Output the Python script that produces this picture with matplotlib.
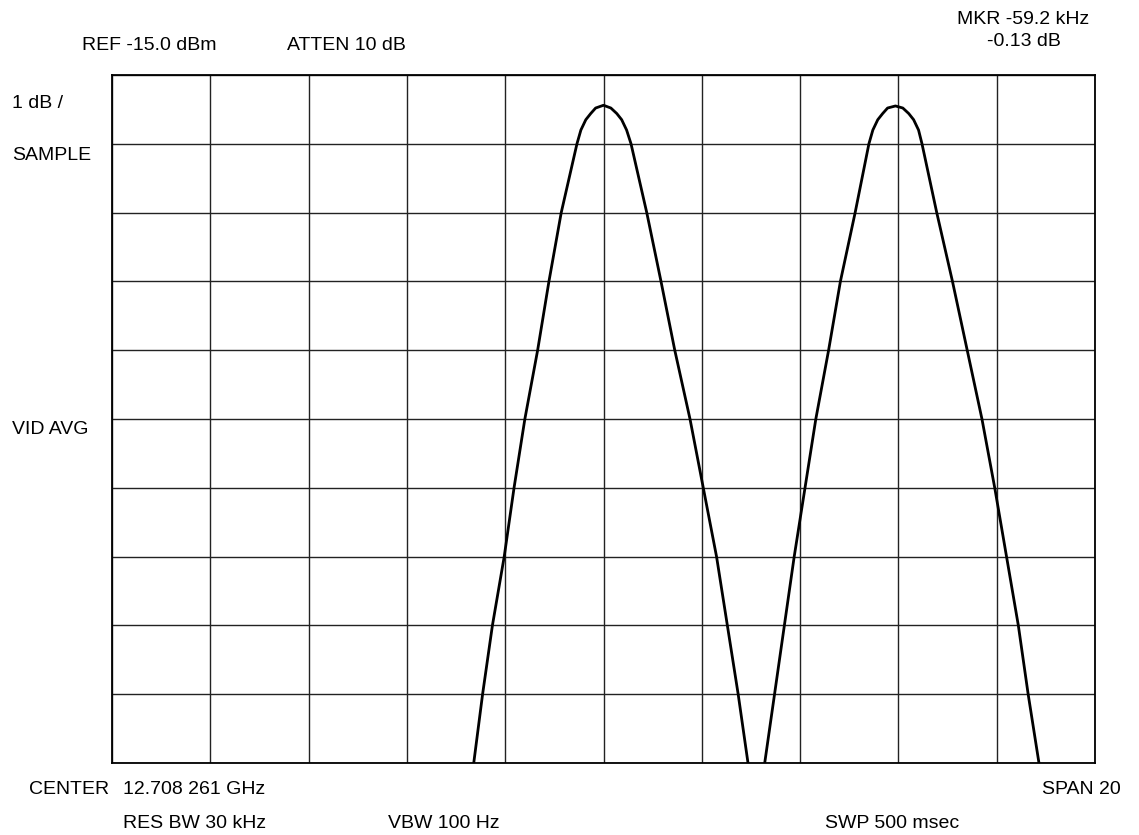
import numpy as np
import matplotlib
matplotlib.use('Agg')
import matplotlib.pyplot as plt

plt.rcParams['font.family'] = ['Liberation Sans', 'DejaVu Sans']

# --- screen settings (spectrum analyzer) ---
ref_level = -15.0      # dBm, top graticule line
db_per_div = 1.0
span_khz = 20.0        # center +/- 10 kHz
n_div = 10

# --- trace: offset from center (kHz) and level (dBm) ---
lobe1_khz = [-2.64, -2.46, -2.26, -2.02, -1.82, -1.60, -1.34, -1.11, -0.86, -0.54,
             -0.46, -0.36, -0.26, -0.16, 0.00, 0.15, 0.27, 0.37, 0.47, 0.56,
             0.88, 1.17, 1.45, 1.76, 2.03, 2.30, 2.52, 2.74, 2.94]
lobe1_dbm = [-25.0, -24.0, -23.0, -22.0, -21.0, -20.0, -19.0, -18.0, -17.0, -16.0,
             -15.80, -15.65, -15.56, -15.48, -15.44, -15.48, -15.56, -15.65, -15.80, -16.0,
             -17.0, -18.0, -19.0, -20.0, -21.0, -22.0, -23.0, -24.0, -25.0]

lobe2_khz = [3.28, 3.48, 3.68, 3.88, 4.10, 4.32, 4.58, 4.82, 5.12, 5.40,
             5.48, 5.58, 5.68, 5.78, 5.94, 6.09, 6.21, 6.31, 6.41, 6.48,
             6.78, 7.10, 7.40, 7.70, 7.96, 8.20, 8.44, 8.64, 8.86]
lobe2_dbm = [-25.0, -24.0, -23.0, -22.0, -21.0, -20.0, -19.0, -18.0, -17.0, -16.0,
             -15.80, -15.65, -15.56, -15.48, -15.45, -15.48, -15.56, -15.65, -15.80, -16.0,
             -17.0, -18.0, -19.0, -20.0, -21.0, -22.0, -23.0, -24.0, -25.0]

W, H = 1139, 835
fig = plt.figure(figsize=(W / 100, H / 100), dpi=100)
ax = fig.add_axes([112 / W, 1 - 763 / H, (1095 - 112) / W, (763 - 75) / H])

ax.set_xlim(-span_khz / 2, span_khz / 2)
ax.set_ylim(ref_level - n_div * db_per_div, ref_level)
ax.set_xticks(np.linspace(-span_khz / 2, span_khz / 2, n_div + 1))
ax.set_yticks(np.linspace(ref_level - n_div * db_per_div, ref_level, n_div + 1))
ax.tick_params(length=0, labelbottom=False, labelleft=False)
ax.grid(True, color='#222222', linewidth=1.0)
for s in ax.spines.values():
    s.set_color('black')
    s.set_linewidth(1.3)

for fx, lv in [(lobe1_khz, lobe1_dbm), (lobe2_khz, lobe2_dbm)]:
    ax.plot(fx, lv, color='black', linewidth=2.0,
            solid_joinstyle='round', solid_capstyle='round')

# --- annotations around the screen ---
def label(x, y, s, ha='left'):
    fig.text(x / W, 1 - y / H, s, ha=ha, va='center', fontsize=14, color='black')

label(82, 45, 'REF -15.0 dBm')
label(287, 45, 'ATTEN 10 dB')
label(1023, 19, 'MKR -59.2 kHz', ha='center')
label(1024, 42, '-0.13 dB', ha='center')
label(12, 103, '1 dB /')
label(12, 155, 'SAMPLE')
label(12, 430, 'VID AVG')
label(29, 790, 'CENTER')
label(123, 790, '12.708 261 GHz')
label(1042, 790, 'SPAN 20')
label(123, 824, 'RES BW 30 kHz')
label(388, 824, 'VBW 100 Hz')
label(825, 824, 'SWP 500 msec')

plt.savefig('out.png', dpi=100)
